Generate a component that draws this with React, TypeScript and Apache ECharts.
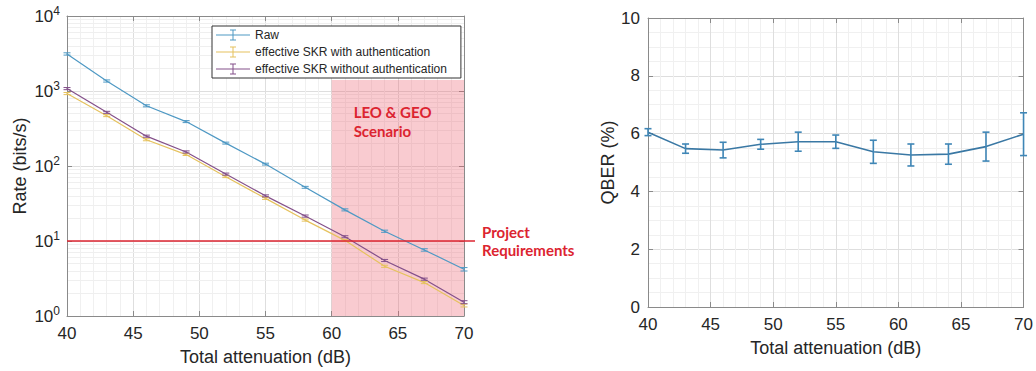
import React, { useEffect, useRef } from "react";
import * as echarts from "echarts";

// ---- data ----
const attenuation = [40, 43, 46, 49, 52, 55, 58, 61, 64, 67, 70];
const rawRate = [3120, 1360, 635, 391, 202, 106, 52, 26, 13.5, 7.6, 4.2];
const rawErr = [110, 45, 20, 12, 6, 3, 1.5, 0.8, 0.45, 0.28, 0.22];
const skrWithAuth = [925, 469, 224, 142, 72, 37, 19, 10.2, 4.6, 2.79, 1.38];
const skrWithAuthErr = [30, 14, 7, 4, 2, 1.1, 0.6, 0.3, 0.15, 0.09, 0.06];
const skrWithoutAuth = [1077, 520, 250, 154, 78, 40, 21.5, 11.4, 5.5, 3.1, 1.53];
const skrWithoutAuthErr = [35, 16, 8, 5, 2.5, 1.2, 0.7, 0.35, 0.18, 0.1, 0.07];
const qber = [6.05, 5.48, 5.43, 5.63, 5.72, 5.72, 5.37, 5.26, 5.29, 5.55, 5.98];
const qberErr = [0.12, 0.16, 0.27, 0.17, 0.33, 0.23, 0.4, 0.38, 0.35, 0.5, 0.74];

const requirementRate = 10;
const scenarioRange = [60, 70];
const scenarioTopRate = 1400;
const rateDecades = [1, 10, 100, 1000];
const minorMultipliers = [2, 3, 4, 5, 6, 7, 8, 9];

const NAME_RAW = "Raw";
const NAME_WITH = "effective SKR with authentication";
const NAME_WITHOUT = "effective SKR without authentication";

const C_RAW = "#4f99c4";
const C_WITH = "#e6c25e";
const C_WITHOUT = "#84508a";
const C_QBER = "#3a78a4";
const C_RED = "#dc2430";
const AX = "#8a8a8a";
const TXT = "#262626";
const FONT = "Liberation Sans, Arial, sans-serif";

const errIcon =
  "path://M0,5.5H34V6.5H0Z M16.5,0.5H17.5V11.5H16.5Z M14,0.5H20V1.5H14Z M14,10.5H20V11.5H14Z";

function errSeries(name: string, vals: number[], errs: number[], color: string, xi: number, yi: number, cap: number, lw: number) {
  return {
    type: "custom",
    name,
    xAxisIndex: xi,
    yAxisIndex: yi,
    silent: true,
    z: 4,
    data: attenuation.map((x, i) => [x, vals[i] - errs[i], vals[i] + errs[i]]),
    encode: { x: 0, y: [1, 2] },
    renderItem: (_p: any, api: any) => {
      const x = api.value(0);
      const lo = api.coord([x, api.value(1)]);
      const hi = api.coord([x, api.value(2)]);
      const style = { stroke: color, lineWidth: lw, fill: "none" };
      return {
        type: "group",
        children: [
          { type: "line", shape: { x1: lo[0], y1: lo[1], x2: hi[0], y2: hi[1] }, style },
          { type: "line", shape: { x1: lo[0] - cap, y1: lo[1], x2: lo[0] + cap, y2: lo[1] }, style },
          { type: "line", shape: { x1: hi[0] - cap, y1: hi[1], x2: hi[0] + cap, y2: hi[1] }, style },
        ],
      };
    },
  };
}

function xAxisBase(gridIndex: number, position: "bottom" | "top") {
  const main = position === "bottom";
  return {
    type: "value",
    gridIndex,
    position,
    min: 40,
    max: 70,
    interval: 5,
    axisLine: { show: true, onZero: false, lineStyle: { color: AX, width: 1 } },
    axisTick: { show: true, inside: true, length: 5, lineStyle: { color: AX } },
    axisLabel: { show: main, fontSize: 17, color: TXT, margin: 9, fontFamily: FONT },
    splitLine: { show: main, lineStyle: { color: "#dedede", width: 1 } },
    minorTick: { show: false, splitNumber: 5 },
    minorSplitLine: { show: main, lineStyle: { color: "#f0f0f0", width: 1 } },
    name: main ? "Total attenuation (dB)" : "",
    nameLocation: "middle",
    nameGap: 32,
    nameTextStyle: { fontSize: 18, color: TXT, fontFamily: FONT },
  };
}

function logYAxis(position: "left" | "right") {
  const main = position === "left";
  return {
    type: "log",
    logBase: 10,
    gridIndex: 0,
    position,
    min: 1,
    max: 10000,
    axisLine: { show: true, onZero: false, lineStyle: { color: AX, width: 1 } },
    axisTick: { show: true, inside: true, length: 5, lineStyle: { color: AX } },
    axisLabel: {
      show: main,
      margin: 7,
      color: TXT,
      fontFamily: FONT,
      formatter: (v: number) => `{b|10}{s|${Math.round(Math.log10(v))}}`,
      rich: {
        b: { fontSize: 17, color: TXT, fontFamily: FONT },
        s: { fontSize: 12, color: TXT, fontFamily: FONT, padding: [0, 0, 10, 0] },
      },
    },
    splitLine: { show: main, lineStyle: { color: "#dedede", width: 1 } },
    name: main ? "Rate (bits/s)" : "",
    nameLocation: "middle",
    nameGap: 38,
    nameTextStyle: { fontSize: 18, color: TXT, fontFamily: FONT },
  };
}

function linYAxis(position: "left" | "right") {
  const main = position === "left";
  return {
    type: "value",
    gridIndex: 1,
    position,
    min: 0,
    max: 10,
    interval: 2,
    axisLine: { show: true, onZero: false, lineStyle: { color: AX, width: 1 } },
    axisTick: { show: true, inside: true, length: 5, lineStyle: { color: AX } },
    axisLabel: { show: main, fontSize: 17, color: TXT, margin: 8, fontFamily: FONT },
    splitLine: { show: main, lineStyle: { color: "#dedede", width: 1 } },
    minorTick: { show: false, splitNumber: 4 },
    minorSplitLine: { show: main, lineStyle: { color: "#f0f0f0", width: 1 } },
    name: main ? "QBER (%)" : "",
    nameLocation: "middle",
    nameGap: 30,
    nameTextStyle: { fontSize: 18, color: TXT, fontFamily: FONT },
  };
}

export default function App() {
  const ref = useRef<HTMLDivElement>(null);
  useEffect(() => {
    document.body.style.margin = "0";
    if (!ref.current) return;
    const chart = echarts.init(ref.current, null, { renderer: "svg" });
    const minorGrid = rateDecades.flatMap((d) => minorMultipliers.map((m) => ({ yAxis: m * d })));
    const lineOf = (name: string, vals: number[], color: string) => ({
      type: "line",
      name,
      xAxisIndex: 0,
      yAxisIndex: 0,
      data: attenuation.map((x, i) => [x, vals[i]]),
      symbol: "none",
      itemStyle: { color },
      lineStyle: { color, width: 1.2 },
      z: 3,
    });
    const option: any = {
      animation: false,
      backgroundColor: "#ffffff",
      textStyle: { fontFamily: FONT },
      grid: [
        { left: 67, top: 16, width: 397, height: 303, show: false },
        { left: 648, top: 18, width: 377, height: 289, show: false },
      ],
      legend: {
        orient: "vertical",
        left: 212,
        top: 26,
        align: "left",
        padding: [3, 14, 3, 4],
        itemWidth: 34,
        itemHeight: 12,
        itemGap: 5,
        backgroundColor: "#ffffff",
        borderColor: "#333333",
        borderWidth: 1,
        borderRadius: 0,
        textStyle: { fontSize: 12, color: TXT, fontFamily: FONT },
        data: [
          { name: NAME_RAW, icon: errIcon },
          { name: NAME_WITH, icon: errIcon },
          { name: NAME_WITHOUT, icon: errIcon },
        ],
        selectedMode: false,
        z: 20,
      },
      xAxis: [xAxisBase(0, "bottom"), xAxisBase(0, "top"), xAxisBase(1, "bottom"), xAxisBase(1, "top")],
      yAxis: [logYAxis("left"), logYAxis("right"), linYAxis("left"), linYAxis("right")],
      series: [
        {
          type: "line",
          name: "minor-grid",
          xAxisIndex: 0,
          yAxisIndex: 0,
          data: [],
          silent: true,
          z: 0,
          markLine: {
            z: 0,
            silent: true,
            symbol: ["none", "none"],
            label: { show: false },
            lineStyle: { color: "#efefef", width: 1, type: "solid" },
            data: minorGrid,
          },
        },
        {
          type: "line",
          name: "scenario",
          xAxisIndex: 0,
          yAxisIndex: 0,
          data: [],
          silent: true,
          z: 1,
          markArea: {
            z: 1,
            silent: true,
            itemStyle: { color: "rgba(236, 92, 108, 0.32)" },
            label: {
              show: true,
              position: [22, 22],
              align: "left",
              verticalAlign: "top",
              formatter: "LEO & GEO\nScenario",
              color: C_RED,
              fontWeight: "bold",
              fontSize: 15,
              lineHeight: 19,
              fontFamily: "Lato, sans-serif",
            },
            data: [[{ xAxis: scenarioRange[0], yAxis: 1 }, { xAxis: scenarioRange[1], yAxis: scenarioTopRate }]],
          },
        },
        lineOf(NAME_RAW, rawRate, C_RAW),
        lineOf(NAME_WITH, skrWithAuth, C_WITH),
        lineOf(NAME_WITHOUT, skrWithoutAuth, C_WITHOUT),
        errSeries("raw-err", rawRate, rawErr, C_RAW, 0, 0, 3.5, 1),
        errSeries("with-err", skrWithAuth, skrWithAuthErr, C_WITH, 0, 0, 3.5, 1),
        errSeries("without-err", skrWithoutAuth, skrWithoutAuthErr, C_WITHOUT, 0, 0, 3.5, 1),
        {
          type: "line",
          name: "QBER",
          xAxisIndex: 2,
          yAxisIndex: 2,
          data: attenuation.map((x, i) => [x, qber[i]]),
          symbol: "none",
          lineStyle: { color: C_QBER, width: 1.6 },
          z: 3,
        },
        errSeries("qber-err", qber, qberErr, "#3f86b6", 2, 2, 3.5, 1.6),
      ],
    };
    chart.setOption(option);
    const a = chart.convertToPixel({ gridIndex: 0 }, [attenuation[0], requirementRate]) as number[];
    const b = chart.convertToPixel({ gridIndex: 0 }, [attenuation[attenuation.length - 1], requirementRate]) as number[];
    chart.setOption({
      graphic: [
        {
          type: "line",
          z: 30,
          silent: true,
          shape: { x1: a[0], y1: a[1], x2: b[0] + 11, y2: b[1] },
          style: { stroke: C_RED, lineWidth: 1.6 },
        },
        {
          type: "text",
          z: 30,
          silent: true,
          x: b[0] + 18,
          y: b[1],
          style: {
            text: "Project\nRequirements",
            fill: C_RED,
            font: "bold 15px Lato, sans-serif",
            lineHeight: 18,
            align: "left",
            verticalAlign: "middle",
          },
        },
      ],
    });
    return () => chart.dispose();
  }, []);
  return <div ref={ref} style={{ width: 1036, height: 371 }} />;
}
